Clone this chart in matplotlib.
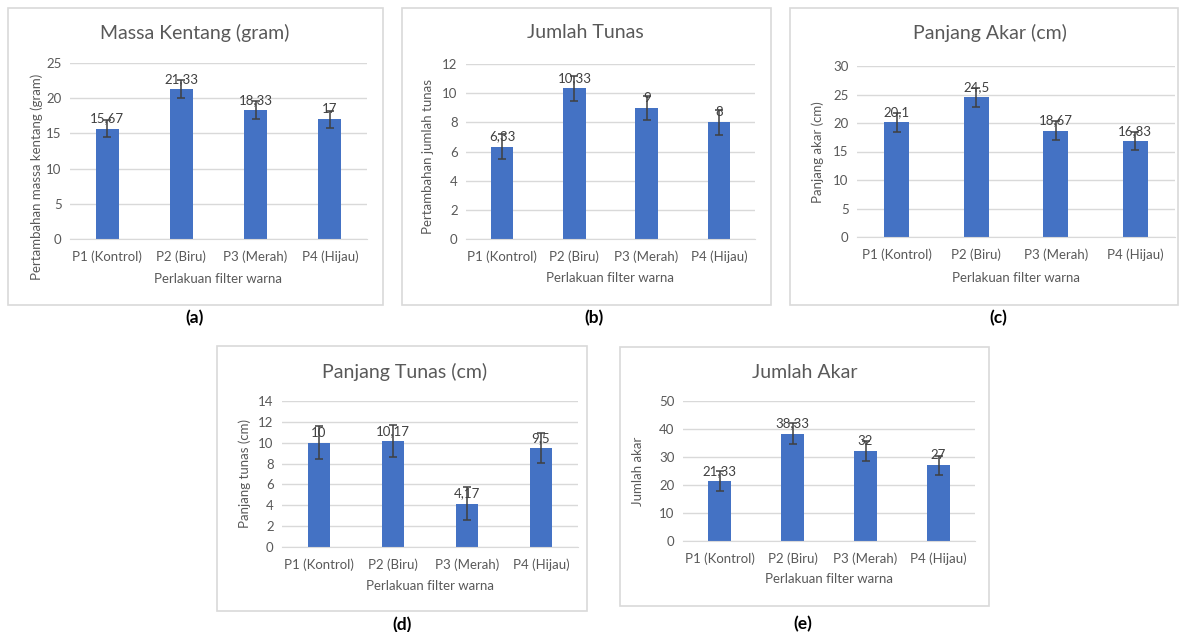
import matplotlib
matplotlib.use("Agg")
import matplotlib.pyplot as plt
from matplotlib.patches import Rectangle

plt.rcParams['font.family'] = ['Lato', 'DejaVu Sans']

categories = ["P1 (Kontrol)", "P2 (Biru)", "P3 (Merah)", "P4 (Hijau)"]

massa_vals = [15.67, 21.33, 18.33, 17]
massa_err = [1.2, 1.25, 1.25, 1.2]

tunas_vals = [6.33, 10.33, 9, 8]
tunas_err = [0.87, 0.85, 0.83, 0.87]

akar_pj_vals = [20.1, 24.5, 18.67, 16.83]
akar_pj_err = [1.65, 1.65, 1.65, 1.65]

tunas_pj_vals = [10, 10.17, 4.17, 9.5]
tunas_pj_err = [1.6, 1.5, 1.6, 1.4]

akar_jml_vals = [21.33, 38.33, 32, 27]
akar_jml_err = [3.6, 3.7, 3.6, 3.5]

W, H = 1182, 632
fig = plt.figure(figsize=(W / 100, H / 100), dpi=100)
fig.patch.set_facecolor("white")

TXT = "#595959"
GRID = "#D9D9D9"
BAR = "#4472C4"
ERR = "#404040"


def frac_rect(x0, y0, x1, y1):
    return [x0 / W, 1 - y1 / H, (x1 - x0) / W, (y1 - y0) / H]


def fmt(v):
    s = ("%g" % v)
    return s.replace(".", ",")


panels = [
    dict(box=(8, 8, 383, 305), ax=(70, 63, 367, 239), ymax=25, step=5,
         title="Massa Kentang (gram)", tpos=(195, 33),
         ylabel="Pertambahan massa kentang (gram)", ylx=37, yly=177,
         xly=279, lab="(a)", lpos=(195, 318),
         vals=massa_vals, err=massa_err),
    dict(box=(402, 8, 771, 305), ax=(466, 64, 755, 239), ymax=12, step=2,
         title="Jumlah Tunas", tpos=(585, 32),
         ylabel="Pertambahan jumlah tunas", ylx=428, yly=157,
         xly=278, lab="(b)", lpos=(594, 318),
         vals=tunas_vals, err=tunas_err),
    dict(box=(790, 8, 1178, 305), ax=(857, 66, 1175, 237), ymax=30, step=5,
         title="Panjang Akar (cm)", tpos=(990, 33),
         ylabel="Panjang akar (cm)", ylx=818, yly=152,
         xly=278, lab="(c)", lpos=(998, 318),
         vals=akar_pj_vals, err=akar_pj_err),
    dict(box=(217, 346, 587, 611), ax=(282, 401, 578, 547), ymax=14, step=2,
         title="Panjang Tunas (cm)", tpos=(405, 372),
         ylabel="Panjang tunas (cm)", ylx=245, yly=473,
         xly=586, lab="(d)", lpos=(402, 625),
         vals=tunas_pj_vals, err=tunas_pj_err),
    dict(box=(620, 347, 989, 606), ax=(683, 401, 975, 541), ymax=50, step=10,
         title="Jumlah Akar", tpos=(805, 372),
         ylabel="Jumlah akar", ylx=638, yly=471,
         xly=579, lab="(e)", lpos=(803, 624),
         vals=akar_jml_vals, err=akar_jml_err),
]

for p in panels:
    bx0, by0, bx1, by1 = p["box"]
    fig.patches.append(Rectangle((bx0 / W, 1 - by1 / H), (bx1 - bx0) / W, (by1 - by0) / H,
                                 transform=fig.transFigure, fill=False,
                                 edgecolor="#D9D9D9", linewidth=1.2))
    ax0, ay0, ax1, ay1 = p["ax"]
    ax = fig.add_axes(frac_rect(ax0, ay0, ax1, ay1))
    x = list(range(len(categories)))
    ax.bar(x, p["vals"], width=0.31, color=BAR, zorder=2)
    ax.errorbar(x, p["vals"], yerr=p["err"], fmt="none", ecolor=ERR,
                elinewidth=1.1, capsize=2.6, capthick=1.1, zorder=3)
    for xi, v in zip(x, p["vals"]):
        ax.annotate(fmt(v), (xi, v), xytext=(0, 3), textcoords="offset points",
                    ha="center", va="bottom", fontsize=9.5, color=ERR, zorder=4)
    ax.set_xlim(-0.5, len(categories) - 0.5)
    ax.set_ylim(0, p["ymax"])
    ax.set_yticks(range(0, p["ymax"] + 1, p["step"]))
    ax.set_xticks(x)
    ax.set_xticklabels(categories)
    ax.yaxis.grid(True, color=GRID, linewidth=1, zorder=0)
    ax.set_axisbelow(True)
    for s in ["top", "right", "left"]:
        ax.spines[s].set_visible(False)
    ax.spines["bottom"].set_color(GRID)
    ax.tick_params(axis="both", length=0, colors=TXT, labelsize=9.5)
    ax.tick_params(axis="x", pad=8)
    ax.tick_params(axis="y", pad=6)
    ax.set_facecolor("none")
    # title
    fig.text(p["tpos"][0] / W, 1 - p["tpos"][1] / H, p["title"], ha="center", va="center",
             fontsize=14, color=TXT)
    # y label
    fig.text(p["ylx"] / W, 1 - p["yly"] / H, p["ylabel"], rotation=90,
             ha="center", va="center", fontsize=9.5, color=TXT)
    # x label
    fig.text(((ax0 + ax1) / 2) / W, 1 - p["xly"] / H, "Perlakuan filter warna",
             ha="center", va="center", fontsize=9.5, color=TXT)
    # panel label
    fig.text(p["lpos"][0] / W, 1 - p["lpos"][1] / H, p["lab"], ha="center", va="center",
             fontsize=12.5, fontweight="bold", color="black")

fig.savefig("out.png", dpi=100, facecolor="white")
